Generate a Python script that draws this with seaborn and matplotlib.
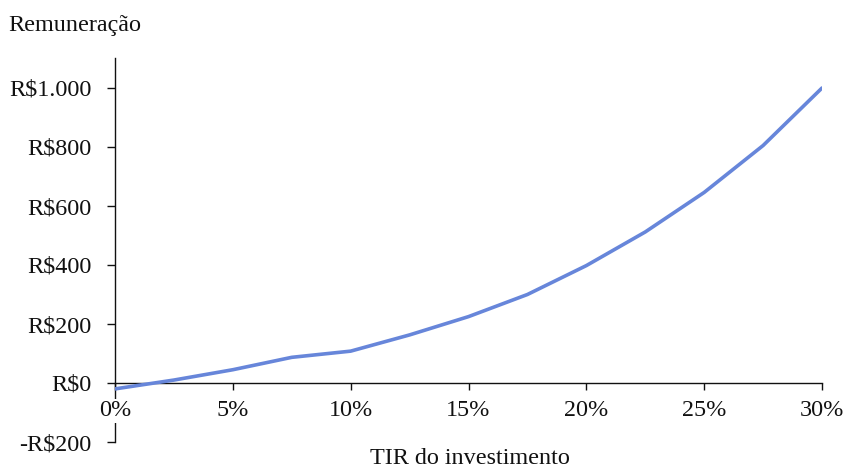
import matplotlib
matplotlib.use("Agg")
import matplotlib.pyplot as plt
import seaborn as sns
import pandas as pd
from matplotlib.ticker import FuncFormatter

# Investment IRR (%) and the corresponding remuneration (R$)
tir = [0, 2.5, 5, 7.5, 10, 12.5, 15, 17.5, 20, 22.5, 25, 27.5, 30]
remuneracao = [-20, 10, 45, 87, 108, 163, 225, 300, 398, 512, 646, 805, 1000]

x_ticks = [0, 5, 10, 15, 20, 25, 30]
y_ticks = [-200, 0, 200, 400, 600, 800, 1000]

sns.set_style("ticks")
plt.rcParams["font.family"] = ["Liberation Serif", "DejaVu Serif"]
plt.rcParams["font.size"] = 17.4

df = pd.DataFrame({"tir": tir, "remuneracao": remuneracao})

fig = plt.figure(figsize=(8.46, 4.69), dpi=100)
ax = fig.add_axes([115 / 846, 1 - 442 / 469, (822 - 115) / 846, (442 - 58.5) / 469])

sns.lineplot(data=df, x="tir", y="remuneracao", ax=ax, color="#6786DA",
             linewidth=2.6, zorder=4)

ax.set_xlim(0, 30)
ax.set_ylim(-200, 1100)
ax.set_xticks(x_ticks)
ax.set_yticks(y_ticks)


def fmt_real(v, pos):
    s = f"{abs(int(round(v))):,}".replace(",", ".")
    return ("-" if v < 0 else "") + "R\\$" + s


ax.yaxis.set_major_formatter(FuncFormatter(fmt_real))
ax.xaxis.set_major_formatter(FuncFormatter(lambda v, pos: f"{v:.0f}%"))

# x axis crosses at zero, y axis on the left
ax.spines["bottom"].set_position(("data", 0))
ax.spines["top"].set_visible(False)
ax.spines["right"].set_visible(False)
for side in ("left", "bottom"):
    ax.spines[side].set_color("#111111")
    ax.spines[side].set_linewidth(1.0)

ax.tick_params(axis="y", direction="out", length=6, width=1.0, pad=11,
               color="#111111", labelcolor="#111111")
ax.tick_params(axis="x", direction="out", length=5, width=1.0, pad=7.5,
               color="#111111", labelcolor="#111111")
ax.xaxis.set_zorder(3)
for lbl in ax.get_xticklabels():
    lbl.set_bbox(dict(facecolor="white", edgecolor="none", pad=1.0))

ax.set_xlabel("")
ax.set_ylabel("")
ax.grid(False)

fig.text(8 / 846, 1 - 26 / 469, "Remuneração", ha="left", va="center",
         color="#111111")
fig.text(470 / 846, 1 - 458 / 469, "TIR do investimento", ha="center",
         va="center", color="#111111")

fig.savefig("out.png", dpi=100)
